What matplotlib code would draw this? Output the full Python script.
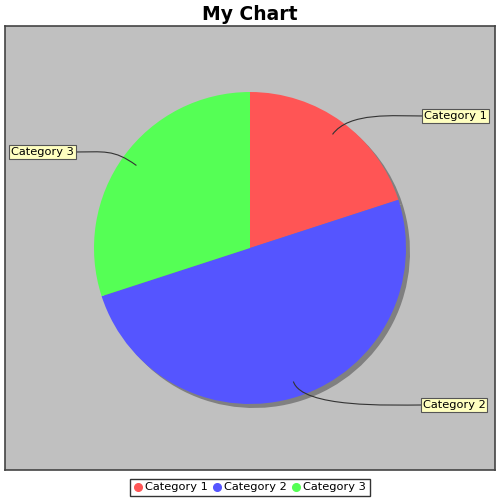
import matplotlib
matplotlib.use("Agg")
import matplotlib.pyplot as plt
import numpy as np
from matplotlib.path import Path
from matplotlib.patches import PathPatch
from matplotlib.lines import Line2D

title = "My Chart"
categories = ["Category 1", "Category 2", "Category 3"]
values = [20, 50, 30]
colors = ["#FF5555", "#5555FF", "#55FF55"]

fig = plt.figure(figsize=(5, 5), dpi=100)
fig.patch.set_facecolor("white")

# plot area in pixel units (y up)
ax = fig.add_axes([0.01, 0.06, 0.98, 0.888])
ax.set_facecolor("#C0C0C0")
for s in ax.spines.values():
    s.set_color("#444444")
    s.set_linewidth(1.2)

cx, cy, r = 250, 252, 156
# shadow
ax.pie(values, startangle=90, counterclock=False, colors=["#808080"] * 3,
       center=(cx + 4, cy - 4), radius=r, frame=True,
       wedgeprops=dict(linewidth=0))
wedges, _ = ax.pie(values, startangle=90, counterclock=False, colors=colors,
                   center=(cx, cy), radius=r, frame=True,
                   wedgeprops=dict(linewidth=0))
ax.set_xlim(5, 495)
ax.set_ylim(30, 474)
ax.set_aspect("auto")
ax.set_xticks([])
ax.set_yticks([])

# labels with curved leader lines
label_pos = {"Category 1": (455.5, 384),
             "Category 2": (454, 95),
             "Category 3": (42.5, 348)}
edge_x = {"Category 1": 424, "Category 2": 421, "Category 3": 74}
for w, cat in zip(wedges, categories):
    mid = np.deg2rad((w.theta1 + w.theta2) / 2)
    ax_x = cx + 0.9 * r * np.cos(mid)
    ax_y = cy + 0.9 * r * np.sin(mid)
    c1x = cx + 1.08 * r * np.cos(mid)
    c1y = cy + 1.08 * r * np.sin(mid)
    lx, ly = label_pos[cat]
    ex = edge_x[cat]
    c2x = ex + (-30 if ex > cx else 30)
    path = Path([(ax_x, ax_y), (c1x, c1y), (c2x, ly), (ex, ly)],
                [Path.MOVETO, Path.CURVE4, Path.CURVE4, Path.CURVE4])
    ax.add_patch(PathPatch(path, fill=False, edgecolor="#333333", lw=0.8))
    ax.text(lx, ly, cat, ha="center", va="center", fontsize=8.2,
            color="black",
            bbox=dict(boxstyle="square,pad=0.18", facecolor="#FFFFC0",
                      edgecolor="#555555", linewidth=0.8))

fig.text(0.5, 0.972, title, ha="center", va="center", fontsize=13.5,
         fontweight="bold")

handles = [Line2D([], [], marker="o", linestyle="none", markersize=5.5,
                  markerfacecolor=c, markeredgecolor=c) for c in colors]
leg = fig.legend(handles, categories, loc="center", bbox_to_anchor=(0.5, 0.025),
                 ncol=3, fontsize=8.2, frameon=True, fancybox=False,
                 handlelength=0.7, handletextpad=0.25, columnspacing=0.5,
                 borderpad=0.3, borderaxespad=0)
leg.get_frame().set_edgecolor("black")
leg.get_frame().set_linewidth(1.0)

fig.savefig("out.png", dpi=100)
